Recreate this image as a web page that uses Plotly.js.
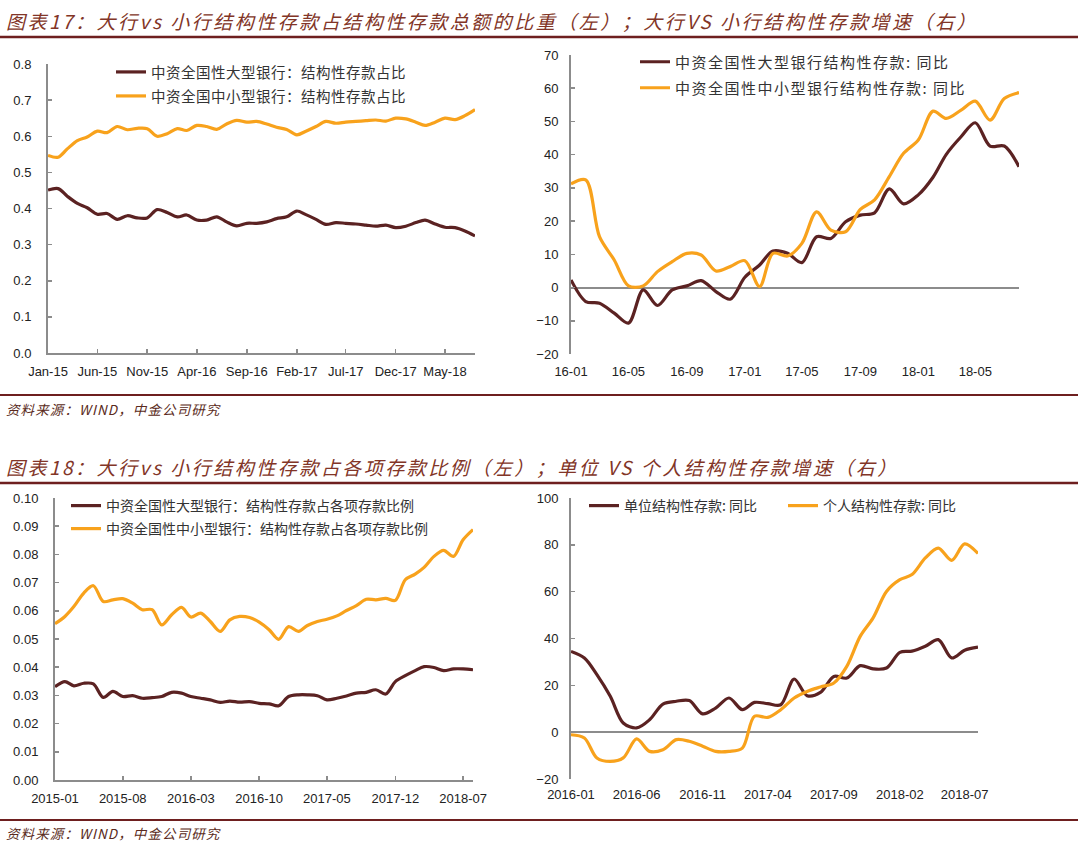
<!DOCTYPE html>
<html><head><meta charset="utf-8">
<script src="https://cdn.plot.ly/plotly-3.0.1.min.js"></script>
<style>
html,body{margin:0;padding:0;background:#fff}#c{width:1080px;height:846px}
text[style*="font-size: 19px"]{letter-spacing:2.5px}
text[style*="font-size: 13.5px"]{letter-spacing:1.1px}
text[style*="font-size: 14.5px"]{letter-spacing:0.5px}
text[style*="font-size: 15px"]{letter-spacing:1.5px}
</style>
</head><body><div id="c"></div>
<script>
// ---- categories (months) ----
const months15 = ['2015-01-01','2015-02-01','2015-03-01','2015-04-01','2015-05-01','2015-06-01','2015-07-01','2015-08-01','2015-09-01','2015-10-01','2015-11-01','2015-12-01',
 '2016-01-01','2016-02-01','2016-03-01','2016-04-01','2016-05-01','2016-06-01','2016-07-01','2016-08-01','2016-09-01','2016-10-01','2016-11-01','2016-12-01',
 '2017-01-01','2017-02-01','2017-03-01','2017-04-01','2017-05-01','2017-06-01','2017-07-01','2017-08-01','2017-09-01','2017-10-01','2017-11-01','2017-12-01',
 '2018-01-01','2018-02-01','2018-03-01','2018-04-01','2018-05-01','2018-06-01','2018-07-01','2018-08-01'];
const months16 = ['2016-01-01','2016-02-01','2016-03-01','2016-04-01','2016-05-01','2016-06-01','2016-07-01','2016-08-01','2016-09-01','2016-10-01','2016-11-01','2016-12-01',
 '2017-01-01','2017-02-01','2017-03-01','2017-04-01','2017-05-01','2017-06-01','2017-07-01','2017-08-01','2017-09-01','2017-10-01','2017-11-01','2017-12-01',
 '2018-01-01','2018-02-01','2018-03-01','2018-04-01','2018-05-01','2018-06-01','2018-07-01','2018-08-01'];

// ---- series: chart 17 left (share of structured deposits) ----
const largeShare = [0.451,0.455,0.434,0.414,0.402,0.384,0.386,0.370,0.380,0.374,0.374,0.397,0.389,0.377,0.382,0.368,0.368,0.377,0.363,0.352,0.359,0.359,0.363,0.372,0.377,0.393,0.383,0.370,0.356,0.361,0.359,0.357,0.354,0.351,0.354,0.347,0.351,0.361,0.368,0.357,0.348,0.347,0.338,0.324];
const smallShare = [0.547,0.542,0.565,0.588,0.598,0.614,0.610,0.627,0.618,0.622,0.621,0.600,0.607,0.621,0.616,0.630,0.627,0.619,0.634,0.644,0.639,0.641,0.634,0.625,0.619,0.604,0.614,0.627,0.641,0.636,0.639,0.641,0.643,0.645,0.642,0.650,0.648,0.639,0.630,0.639,0.650,0.646,0.657,0.674];

// ---- chart 17 right (growth yoy %) ----
const largeYoY = [2.3,-4.2,-4.7,-7.7,-10.7,-0.7,-5.4,-0.7,0.5,2.1,-1.2,-3.5,3.1,6.8,11.0,10.3,7.5,15.3,14.8,19.8,21.8,22.5,29.7,25.2,27.9,33.2,40.1,45.4,49.6,42.6,42.6,36.4];
const smallYoY = [31.2,32.4,15.3,8.3,0.5,0.5,4.8,7.8,10.3,9.8,5.0,6.3,8.1,0.3,10.3,9.5,13.3,22.8,17.3,16.8,23.5,26.4,33.4,40.4,44.4,53.1,50.9,53.4,56.1,50.4,56.9,58.7];

// ---- chart 18 left (share of all deposits) ----
const largeRatio = [0.0331,0.0349,0.0334,0.0343,0.0341,0.0293,0.0314,0.0296,0.0299,0.0290,0.0292,0.0296,0.0311,0.0308,0.0296,0.0290,0.0284,0.0275,0.0280,0.0276,0.0278,0.0272,0.0270,0.0263,0.0296,0.0302,0.0302,0.0299,0.0284,0.0290,0.0298,0.0308,0.0311,0.0320,0.0305,0.0349,0.0370,0.0388,0.0402,0.0399,0.0388,0.0394,0.0394,0.0391];
const smallRatio = [0.0554,0.0580,0.0615,0.0663,0.0689,0.0633,0.0639,0.0643,0.0627,0.0604,0.0604,0.0550,0.0586,0.0612,0.0578,0.0592,0.0562,0.0527,0.0568,0.0580,0.0576,0.0560,0.0533,0.0499,0.0544,0.0527,0.0548,0.0562,0.0570,0.0582,0.0601,0.0618,0.0641,0.0639,0.0644,0.0637,0.0710,0.0730,0.0754,0.0793,0.0814,0.0793,0.0852,0.0888];

// ---- chart 18 right (corporate vs personal yoy %) ----
const corpYoY = [34.5,31.7,24.6,15.3,3.9,1.8,5.3,12.0,13.2,13.5,7.8,10.3,14.6,9.6,12.7,12.2,11.7,22.7,15.6,17.0,23.8,23.1,28.4,27.0,27.4,34.1,34.6,36.7,39.5,31.7,35.0,36.3];
const persYoY = [-1.1,-2.5,-11.0,-12.5,-11.0,-2.9,-8.2,-7.5,-3.2,-3.9,-6.0,-8.2,-8.2,-6.8,6.8,6.3,9.6,14.6,17.4,19.3,21.0,28.1,40.9,48.8,60.1,65.1,67.3,74.4,78.6,73.4,80.4,76.3];

// ---- text ----
const names = {
  l1:'中资全国性大型银行：结构性存款占比', s1:'中资全国中小型银行：结构性存款占比',
  l2:'中资全国性大型银行结构性存款: 同比', s2:'中资全国性中小型银行结构性存款: 同比',
  l3:'中资全国性大型银行：结构性存款占各项存款比例', s3:'中资全国性中小型银行：结构性存款占各项存款比例',
  c4:'单位结构性存款: 同比', p4:'个人结构性存款: 同比'
};
const title17 = '图表17：大行vs 小行结构性存款占结构性存款总额的比重（左）；大行VS 小行结构性存款增速（右）';
const title18 = '图表18：大行vs 小行结构性存款占各项存款比例（左）；单位 VS 个人结构性存款增速（右）';
const source = '资料来源：WIND，中金公司研究';

const W=1080,H=846;
const MAROON='#5b2222', ORANGE='#f8a21c', AXIS='#8c8c8c', TXT='#222222', BROWN='#823527';
const px = v=>v/W, py = v=>1-v/H;
const CJK = '"Noto Sans CJK SC", "Noto Sans", sans-serif';
const NUM = '"Liberation Sans", Arial, sans-serif';

function tr(x,y,name,color,xa,ya,leg){
  return {x:x,y:y,name:name,type:'scatter',mode:'lines',xaxis:xa,yaxis:ya,legend:leg,
    line:{color:color,width:3.2,shape:'spline',smoothing:0.9},hoverinfo:'skip'};
}
const data=[
  tr(months15,largeShare,names.l1,MAROON,'x','y','legend'),
  tr(months15,smallShare,names.s1,ORANGE,'x','y','legend2'),
  tr(months16,largeYoY,names.l2,MAROON,'x2','y2','legend3'),
  tr(months16,smallYoY,names.s2,ORANGE,'x2','y2','legend4'),
  tr(months15,largeRatio,names.l3,MAROON,'x3','y3','legend5'),
  tr(months15,smallRatio,names.s3,ORANGE,'x3','y3','legend6'),
  tr(months16,corpYoY,names.c4,MAROON,'x4','y4','legend7'),
  tr(months16,persYoY,names.p4,ORANGE,'x4','y4','legend8')
];

const dom = {
  1:{x:[px(48),px(475)], y:[py(353),py(64)]},
  2:{x:[px(571),px(1019)], y:[py(354),py(55)]},
  3:{x:[px(55),px(473)], y:[py(780),py(498)]},
  4:{x:[px(571),px(978)], y:[py(779),py(498)]}
};
const yr = {1:[0,0.8],2:[-20,70],3:[0,0.1],4:[-20,100]};

function xax(k,first,last,tick0,dtick,fmt,bottomLine,standoff){
  return {domain:dom[k].x, anchor:'y'+(k===1?'':k), type:'date', range:[first,last],
    tick0:tick0, dtick:dtick, tickformat:fmt, showgrid:false, zeroline:false,
    showline:bottomLine, linecolor:AXIS, linewidth:2,
    ticks:bottomLine?'inside':'', ticklen:4, tickcolor:AXIS, tickwidth:1.5,
    ticklabelstandoff:standoff,
    tickfont:{family:NUM,size:13,color:TXT}, fixedrange:true};
}
function yax(k,dtick,fmt,standoff,zero){
  return {domain:dom[k].y, anchor:'x'+(k===1?'':k), range:yr[k], dtick:dtick, tickformat:fmt,
    showgrid:false, zeroline:zero, zerolinecolor:AXIS, zerolinewidth:2,
    showline:true, linecolor:AXIS, linewidth:2, ticks:'inside', ticklen:4, tickcolor:AXIS, tickwidth:1.5,
    ticklabelstandoff:standoff,
    tickfont:{family:NUM,size:13,color:TXT}, fixedrange:true};
}
function zeroPos(k){ const r=yr[k], d=dom[k].y; return d[0]+(0-r[0])/(r[1]-r[0])*(d[1]-d[0]); }
function zeroAx(over,k,first,last,tick0,dtick){
  return {overlaying:over, anchor:'free', position:zeroPos(k), type:'date', range:[first,last],
    tick0:tick0, dtick:dtick, showticklabels:false, showgrid:false, zeroline:false, showline:false,
    ticks:'inside', ticklen:4, tickcolor:AXIS, tickwidth:1.5, fixedrange:true};
}
function leg(x,y,size){
  return {x:px(x), y:py(y), xanchor:'left', yanchor:'middle', bgcolor:'rgba(0,0,0,0)',
    font:{family:CJK,size:size,color:'#333333'}, itemclick:false, itemdoubleclick:false};
}

const first15=months15[0], last15=months15[months15.length-1];
const first16=months16[0], last16=months16[months16.length-1];

const layout={
  width:W, height:H, margin:{l:0,r:0,t:0,b:0}, paper_bgcolor:'#fff', plot_bgcolor:'rgba(0,0,0,0)',
  showlegend:true,
  xaxis: xax(1,first15,last15,'2015-01-01','M5','%b-%y',true,5),
  yaxis: yax(1,0.1,'.1f',12,false),
  xaxis2: xax(2,first16,last16,'2016-01-01','M4','%y-%m',false,8),
  yaxis2: yax(2,10,'d',8,true),
  xaxis3: xax(3,first15,last15,'2015-01-01','M7','%Y-%m',true,5),
  yaxis3: yax(3,0.01,'.2f',12,false),
  xaxis4: xax(4,first16,last16,'2016-01-01','M5','%Y-%m',false,6),
  yaxis4: yax(4,20,'d',8,true),
  xaxis5: zeroAx('x2',2,first16,last16,'2016-01-01','M4'),
  xaxis6: zeroAx('x4',4,first16,last16,'2016-01-01','M5'),
  legend: leg(111,72,14.5), legend2: leg(111,96,14.5),
  legend3: leg(635,62,15), legend4: leg(635,88,15),
  legend5: leg(66,506,14), legend6: leg(66,529,14),
  legend7: leg(584,506,14), legend8: leg(783,506,14),
  shapes:[
    {type:'line',xref:'paper',yref:'paper',x0:0,x1:px(1078),y0:py(37),y1:py(37),line:{color:'#6e1f1f',width:2.5}},
    {type:'line',xref:'paper',yref:'paper',x0:0,x1:px(1078),y0:py(395),y1:py(395),line:{color:'#6e1f1f',width:2}},
    {type:'line',xref:'paper',yref:'paper',x0:0,x1:px(1078),y0:py(483),y1:py(483),line:{color:'#6e1f1f',width:2.5}},
    {type:'line',xref:'paper',yref:'paper',x0:0,x1:px(1078),y0:py(820),y1:py(820),line:{color:'#6e1f1f',width:2}}
  ],
  annotations:[
    {text:title17,xref:'paper',yref:'paper',x:px(4),y:py(20),xanchor:'left',yanchor:'middle',showarrow:false,
     font:{family:CJK,size:19,color:BROWN,style:'italic'}},
    {text:title18,xref:'paper',yref:'paper',x:px(4),y:py(466),xanchor:'left',yanchor:'middle',showarrow:false,
     font:{family:CJK,size:19,color:BROWN,style:'italic'}},
    {text:source,xref:'paper',yref:'paper',x:px(4),y:py(409),xanchor:'left',yanchor:'middle',showarrow:false,
     font:{family:CJK,size:13.5,color:'#5a2a20',style:'italic'}},
    {text:source,xref:'paper',yref:'paper',x:px(4),y:py(833),xanchor:'left',yanchor:'middle',showarrow:false,
     font:{family:CJK,size:13.5,color:'#5a2a20',style:'italic'}}
  ]
};
Plotly.newPlot('c',data,layout,{staticPlot:true,displayModeBar:false});
</script></body></html>
